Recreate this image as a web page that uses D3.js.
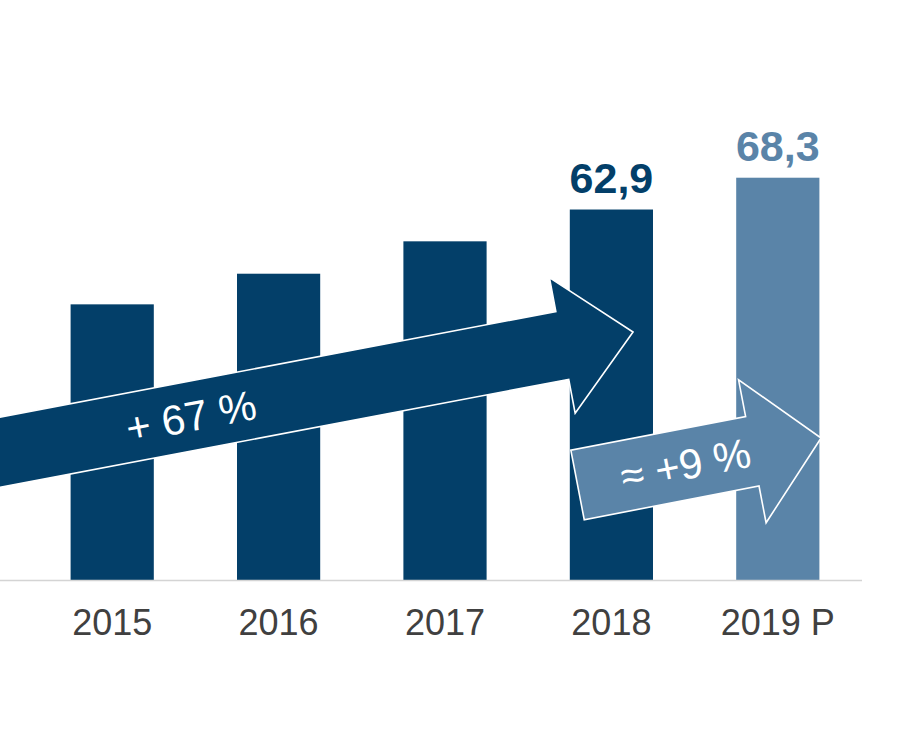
<!DOCTYPE html>
<html>
<head>
<meta charset="utf-8">
<script src="https://cdn.jsdelivr.net/npm/d3@7"></script>
<style>
  html, body { margin: 0; padding: 0; background: #ffffff; }
  svg { display: block; font-family: "Liberation Sans", Arial, sans-serif; }
</style>
</head>
<body>
<svg id="chart" width="900" height="750"></svg>
<script>
// ---- data ----
const categories = ["2015", "2016", "2017", "2018", "2019 P"];
const values = [46.8, 52.0, 57.5, 62.9, 68.3];
const valueLabels = ["", "", "", "62,9", "68,3"];
const projected = [false, false, false, false, true];
const arrowLabels = ["+ 67 %", "\u2248 +9 %"];

// ---- layout ----
const W = 900, H = 750;
const baseY = 580;
const pxPerUnit = 5.89;
const colDark = "#033f69";
const colLight = "#5a84a8";

const svg = d3.select("#chart");

const x = d3.scaleBand().domain(categories).range([29, 861])
  .paddingInner(0.5).paddingOuter(0.25);
const y = d3.scaleLinear().domain([0, 80]).range([baseY, baseY - 80 * pxPerUnit]);
const bw = x.bandwidth();
const pos = (c, f) => x(c) + f * bw;

// bars
svg.append("g").selectAll("rect").data(categories).join("rect")
  .attr("x", d => x(d))
  .attr("y", (d, i) => y(values[i]))
  .attr("width", bw)
  .attr("height", (d, i) => y(0) - y(values[i]))
  .attr("fill", (d, i) => projected[i] ? colLight : colDark);

// value labels
svg.append("g").selectAll("text").data(categories).join("text")
  .attr("x", d => x(d) + bw / 2)
  .attr("y", (d, i) => y(values[i]) - 17)
  .attr("text-anchor", "middle")
  .attr("font-size", 43)
  .attr("font-weight", "bold")
  .attr("fill", (d, i) => projected[i] ? colLight : colDark)
  .text((d, i) => valueLabels[i]);

// baseline
svg.append("line")
  .attr("x1", 0).attr("x2", 862)
  .attr("y1", y(0) + 0.5).attr("y2", y(0) + 0.5)
  .attr("stroke", "#d4d4d4").attr("stroke-width", 1.5);

// x axis
const axis = svg.append("g").attr("transform", `translate(0,${y(0)})`)
  .call(d3.axisBottom(x).tickSize(0).tickPadding(29));
axis.select(".domain").remove();
axis.selectAll("text")
  .attr("font-size", 36)
  .attr("font-family", "Liberation Sans, Arial, sans-serif")
  .attr("fill", "#404040");

// arrows (tip anchored to scales)
function arrowPath(tip, angleDeg, len, shaftHalf, headHalf, headLen) {
  const a = angleDeg * Math.PI / 180;
  const ux = Math.cos(a), uy = Math.sin(a);
  const nx = -uy, ny = ux;
  const P = (along, side) => [tip[0] - ux * along + nx * side, tip[1] - uy * along + ny * side];
  const pts = [
    P(0, 0),
    P(headLen, headHalf),
    P(headLen, shaftHalf),
    P(len, shaftHalf),
    P(len, -shaftHalf),
    P(headLen, -shaftHalf),
    P(headLen, -headHalf)
  ];
  return { d: "M" + pts.map(p => p.join(",")).join("L") + "Z", P };
}

const arrows = [
  { tip: [pos("2018", 0.76), y(42.1)], angle: -10.75, len: 720, shaftHalf: 34.5, headHalf: 69, headLen: 72,
    color: colDark, label: arrowLabels[0], labelAt: 450 },
  { tip: [pos("2019 P", 1.02), y(24.1)], angle: -10.9, len: 248, shaftHalf: 35.4, headHalf: 72.8, headLen: 70,
    color: colLight, label: arrowLabels[1], labelAt: 138 }
];

arrows.forEach(ar => {
  const g = arrowPath(ar.tip, ar.angle, ar.len, ar.shaftHalf, ar.headHalf, ar.headLen);
  svg.append("path")
    .attr("d", g.d)
    .attr("fill", ar.color)
    .attr("stroke", "#ffffff")
    .attr("stroke-width", 1.6)
    .attr("stroke-linejoin", "miter");
  const c = g.P(ar.labelAt, 0);
  svg.append("text")
    .attr("transform", `translate(${c[0]},${c[1]}) rotate(${ar.angle})`)
    .attr("text-anchor", "middle")
    .attr("dy", "0.36em")
    .attr("font-size", 42)
    .attr("fill", "#ffffff")
    .text(ar.label);
});
</script>
</body>
</html>
